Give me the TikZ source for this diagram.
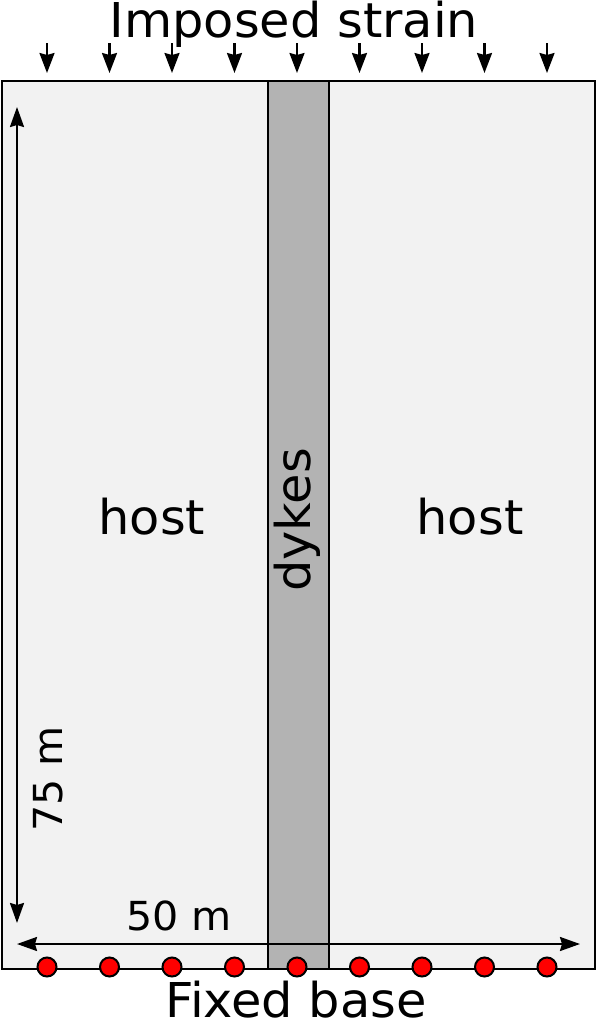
\documentclass[tikz,border=0pt]{standalone}
\usepackage{fontspec}
\setmainfont{DejaVu Sans}[FakeStretch=1.03]
\usetikzlibrary{arrows.meta}
\definecolor{hostfill}{HTML}{F2F2F2}
\definecolor{dykefill}{HTML}{B3B3B3}
\definecolor{dotred}{HTML}{FF0000}
\begin{document}
\begin{tikzpicture}[x=1pt,y=-1pt,
  box/.style={draw=black, line width=2pt, inner sep=0pt, anchor=north west},
  arr/.style={line width=2.2pt, -{Stealth[length=20pt,width=15pt,inset=2pt]}},
  dimarr/.style={line width=2.2pt, {Stealth[length=20pt,width=14pt,inset=2pt]}-{Stealth[length=20pt,width=14pt,inset=2pt]}},
  fixdot/.style={circle, draw=black, line width=2pt, fill=dotred, minimum size=19pt, inner sep=0pt},
  big/.style={font=\fontsize{48}{48}\selectfont, inner sep=0pt},
  dim/.style={font=\fontsize{40}{40}\selectfont, inner sep=0pt}]
\useasboundingbox (0,0) rectangle (595,1028);
% model box
\node[box, fill=hostfill, minimum width=593pt, minimum height=888pt] (model) at (1,80) {};
\node[box, fill=dykefill, minimum width=61pt, minimum height=888pt] (dyke) at (267,80) {};
% labels
\node[big, anchor=base] (title) at (294,37) {Imposed strain};
\node[big, anchor=base] (base) at (296,1017) {Fixed base};
\node[big, anchor=base] (hostL) at (152,534) {host};
\node[big, anchor=base] (hostR) at (470,534) {host};
\node[big, anchor=base, rotate=90] (dykes) at (310,520) {dykes};
\node[dim, anchor=base, rotate=90] (h75) at (62,779) {75 m};
\node[dim, anchor=base] (w50) at (179,930) {50 m};
% top arrows and fixed dots
\foreach \i in {0,...,8} {
  \coordinate (t\i) at (47+62.5*\i,43);
  \coordinate (b\i) at (47+62.5*\i,73);
  \draw[arr] (t\i) -- (b\i);
}
\foreach \i in {0,...,8} {
  \node[fixdot] (d\i) at (47+62.5*\i,967) {};
}
% dimension arrows
\coordinate (vtop) at (17,107);
\coordinate (vbot) at (17,923);
\coordinate (hl) at (17,944);
\coordinate (hr) at (580,944);
\draw[dimarr] (vtop) -- (vbot);
\draw[dimarr] (hl) -- (hr);
\end{tikzpicture}
\end{document}
